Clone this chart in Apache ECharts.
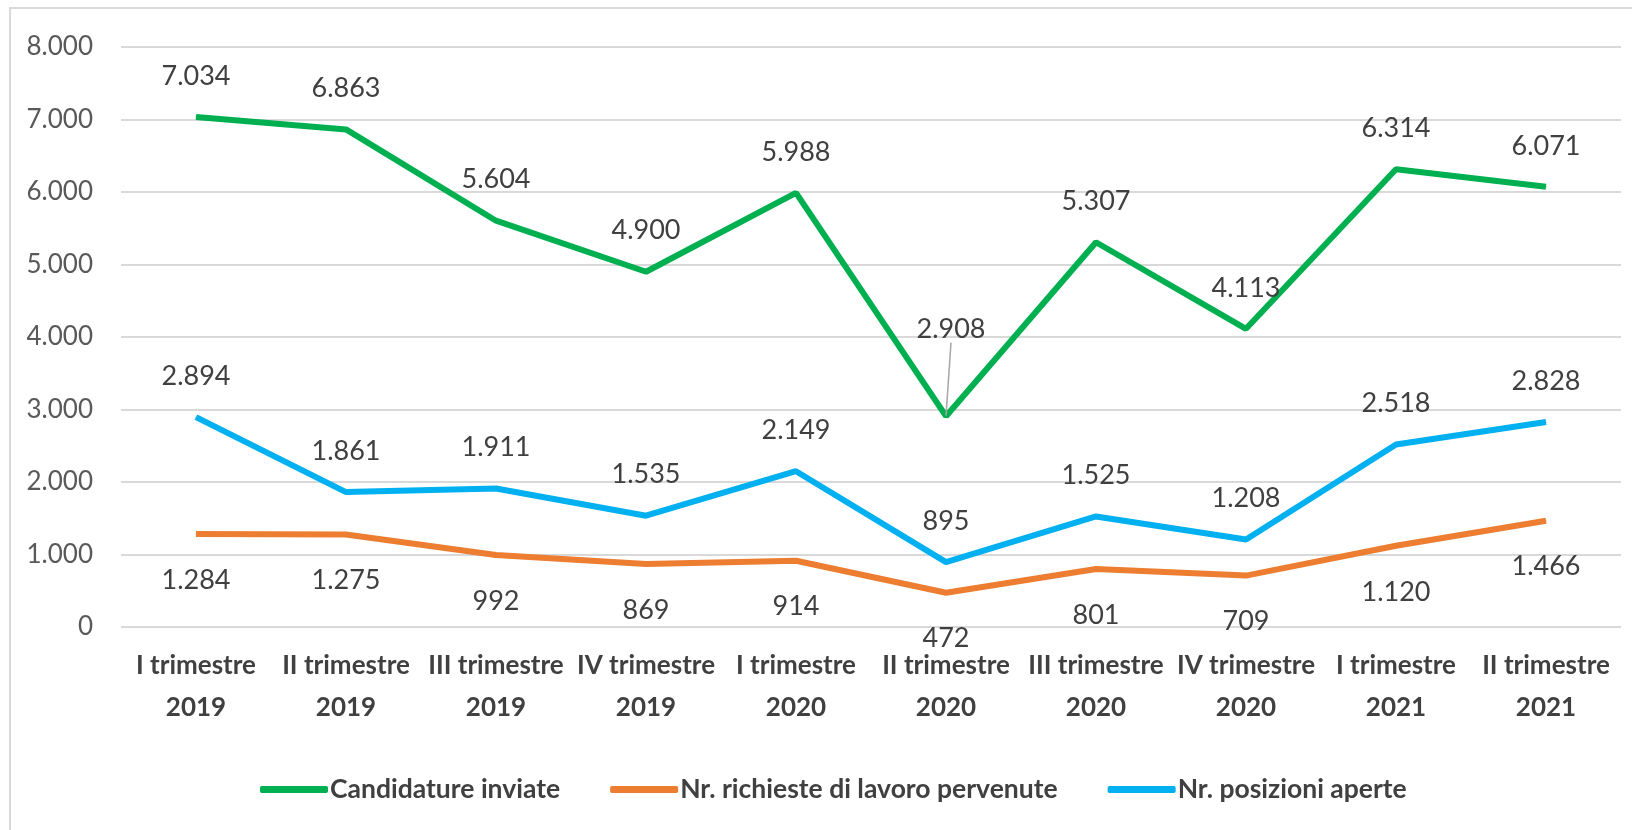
<!DOCTYPE html>
<html>
<head>
<meta charset="utf-8">
<script src="https://cdn.jsdelivr.net/npm/echarts@6/dist/echarts.min.js"></script>
<style>
html, body { margin: 0; padding: 0; background: #fff; }
#main { width: 1632px; height: 830px; }
</style>
</head>
<body>
<div id="main"></div>
<script>
var dom = document.getElementById("main");
var myChart = echarts.init(dom);

var periodi = [
    'I trimestre 2019', 'II trimestre 2019', 'III trimestre 2019', 'IV trimestre 2019',
    'I trimestre 2020', 'II trimestre 2020', 'III trimestre 2020', 'IV trimestre 2020',
    'I trimestre 2021', 'II trimestre 2021'
];
var candidature = [7034, 6863, 5604, 4900, 5988, 2908, 5307, 4113, 6314, 6071];
var richieste = [1284, 1275, 992, 869, 914, 472, 801, 709, 1120, 1466];
var posizioni = [2894, 1861, 1911, 1535, 2149, 895, 1525, 1208, 2518, 2828];
var nomiSerie = ['Candidature inviate', 'Nr. richieste di lavoro pervenute', 'Nr. posizioni aperte'];

var font = 'Lato, "Liberation Sans", sans-serif';

// separatore delle migliaia col punto
function fmt(v) {
    return String(v).replace(/\B(?=(\d{3})+(?!\d))/g, '.');
}

function serie(nome, dati, colore, pos, dist) {
    return {
        name: nome,
        type: 'line',
        data: dati,
        symbol: 'circle',
        symbolSize: 1,
        lineStyle: { color: colore, width: 6 },
        itemStyle: { color: colore },
        label: {
            show: true,
            position: pos,
            distance: dist,
            color: '#404040',
            fontFamily: font,
            fontSize: 27,
            formatter: function (p) { return fmt(p.value); }
        },
        labelLine: { show: false },
        emphasis: { disabled: true },
        animation: false
    };
}

// etichetta del punto più basso spostata in alto con linea di richiamo
var datiCand = candidature.map(function (v, i) {
    if (i === 5) {
        return { value: v, labelLine: { show: true, lineStyle: { color: '#a6a6a6', width: 1.5 } } };
    }
    return v;
});
var s1 = serie(nomiSerie[0], datiCand, '#00B050', 'top', 27);
s1.labelLayout = function (p) {
    if (p.dataIndex === 5) {
        return { dx: 5, dy: -46 };
    }
};

option = {
    backgroundColor: '#fff',
    grid: { left: 121, right: 11, top: 47, bottom: 203 },
    legend: {
        left: 255,
        top: 771,
        itemWidth: 68,
        itemHeight: 7,
        itemGap: 50,
        icon: 'roundRect',
        textStyle: { fontFamily: font, fontSize: 26.5, fontWeight: 'bold', color: '#404040', padding: [0, 0, 0, -3] },
        data: nomiSerie
    },
    xAxis: {
        type: 'category',
        data: periodi,
        axisLine: { show: false },
        axisTick: { show: false },
        axisLabel: {
            margin: 18,
            interval: 0,
            formatter: function (v) {
                var i = v.lastIndexOf(' ');
                return '{a|' + v.slice(0, i) + '}\n{a|' + v.slice(i + 1) + '}';
            },
            rich: {
                a: { fontFamily: font, fontSize: 26, fontWeight: 'bold', color: '#404040', lineHeight: 42, align: 'center' }
            }
        }
    },
    yAxis: {
        type: 'value',
        min: 0,
        max: 8000,
        interval: 1000,
        axisLine: { show: false },
        axisTick: { show: false },
        splitLine: { lineStyle: { color: '#d9d9d9', width: 2 } },
        axisLabel: {
            margin: 28,
            color: '#595959',
            fontFamily: font,
            fontSize: 26,
            formatter: fmt
        }
    },
    graphic: [{
        type: 'rect',
        shape: { x: 10, y: 8, width: 1700, height: 900 },
        style: { fill: 'none', stroke: '#d9d9d9', lineWidth: 2 },
        silent: true
    }],
    series: [
        s1,
        serie(nomiSerie[1], richieste, '#ED7D31', 'bottom', 32),
        serie(nomiSerie[2], posizioni, '#00B0F0', 'top', 27)
    ]
};

if (option && typeof option === "object") {
    myChart.setOption(option, true);
}
</script>
</body>
</html>
